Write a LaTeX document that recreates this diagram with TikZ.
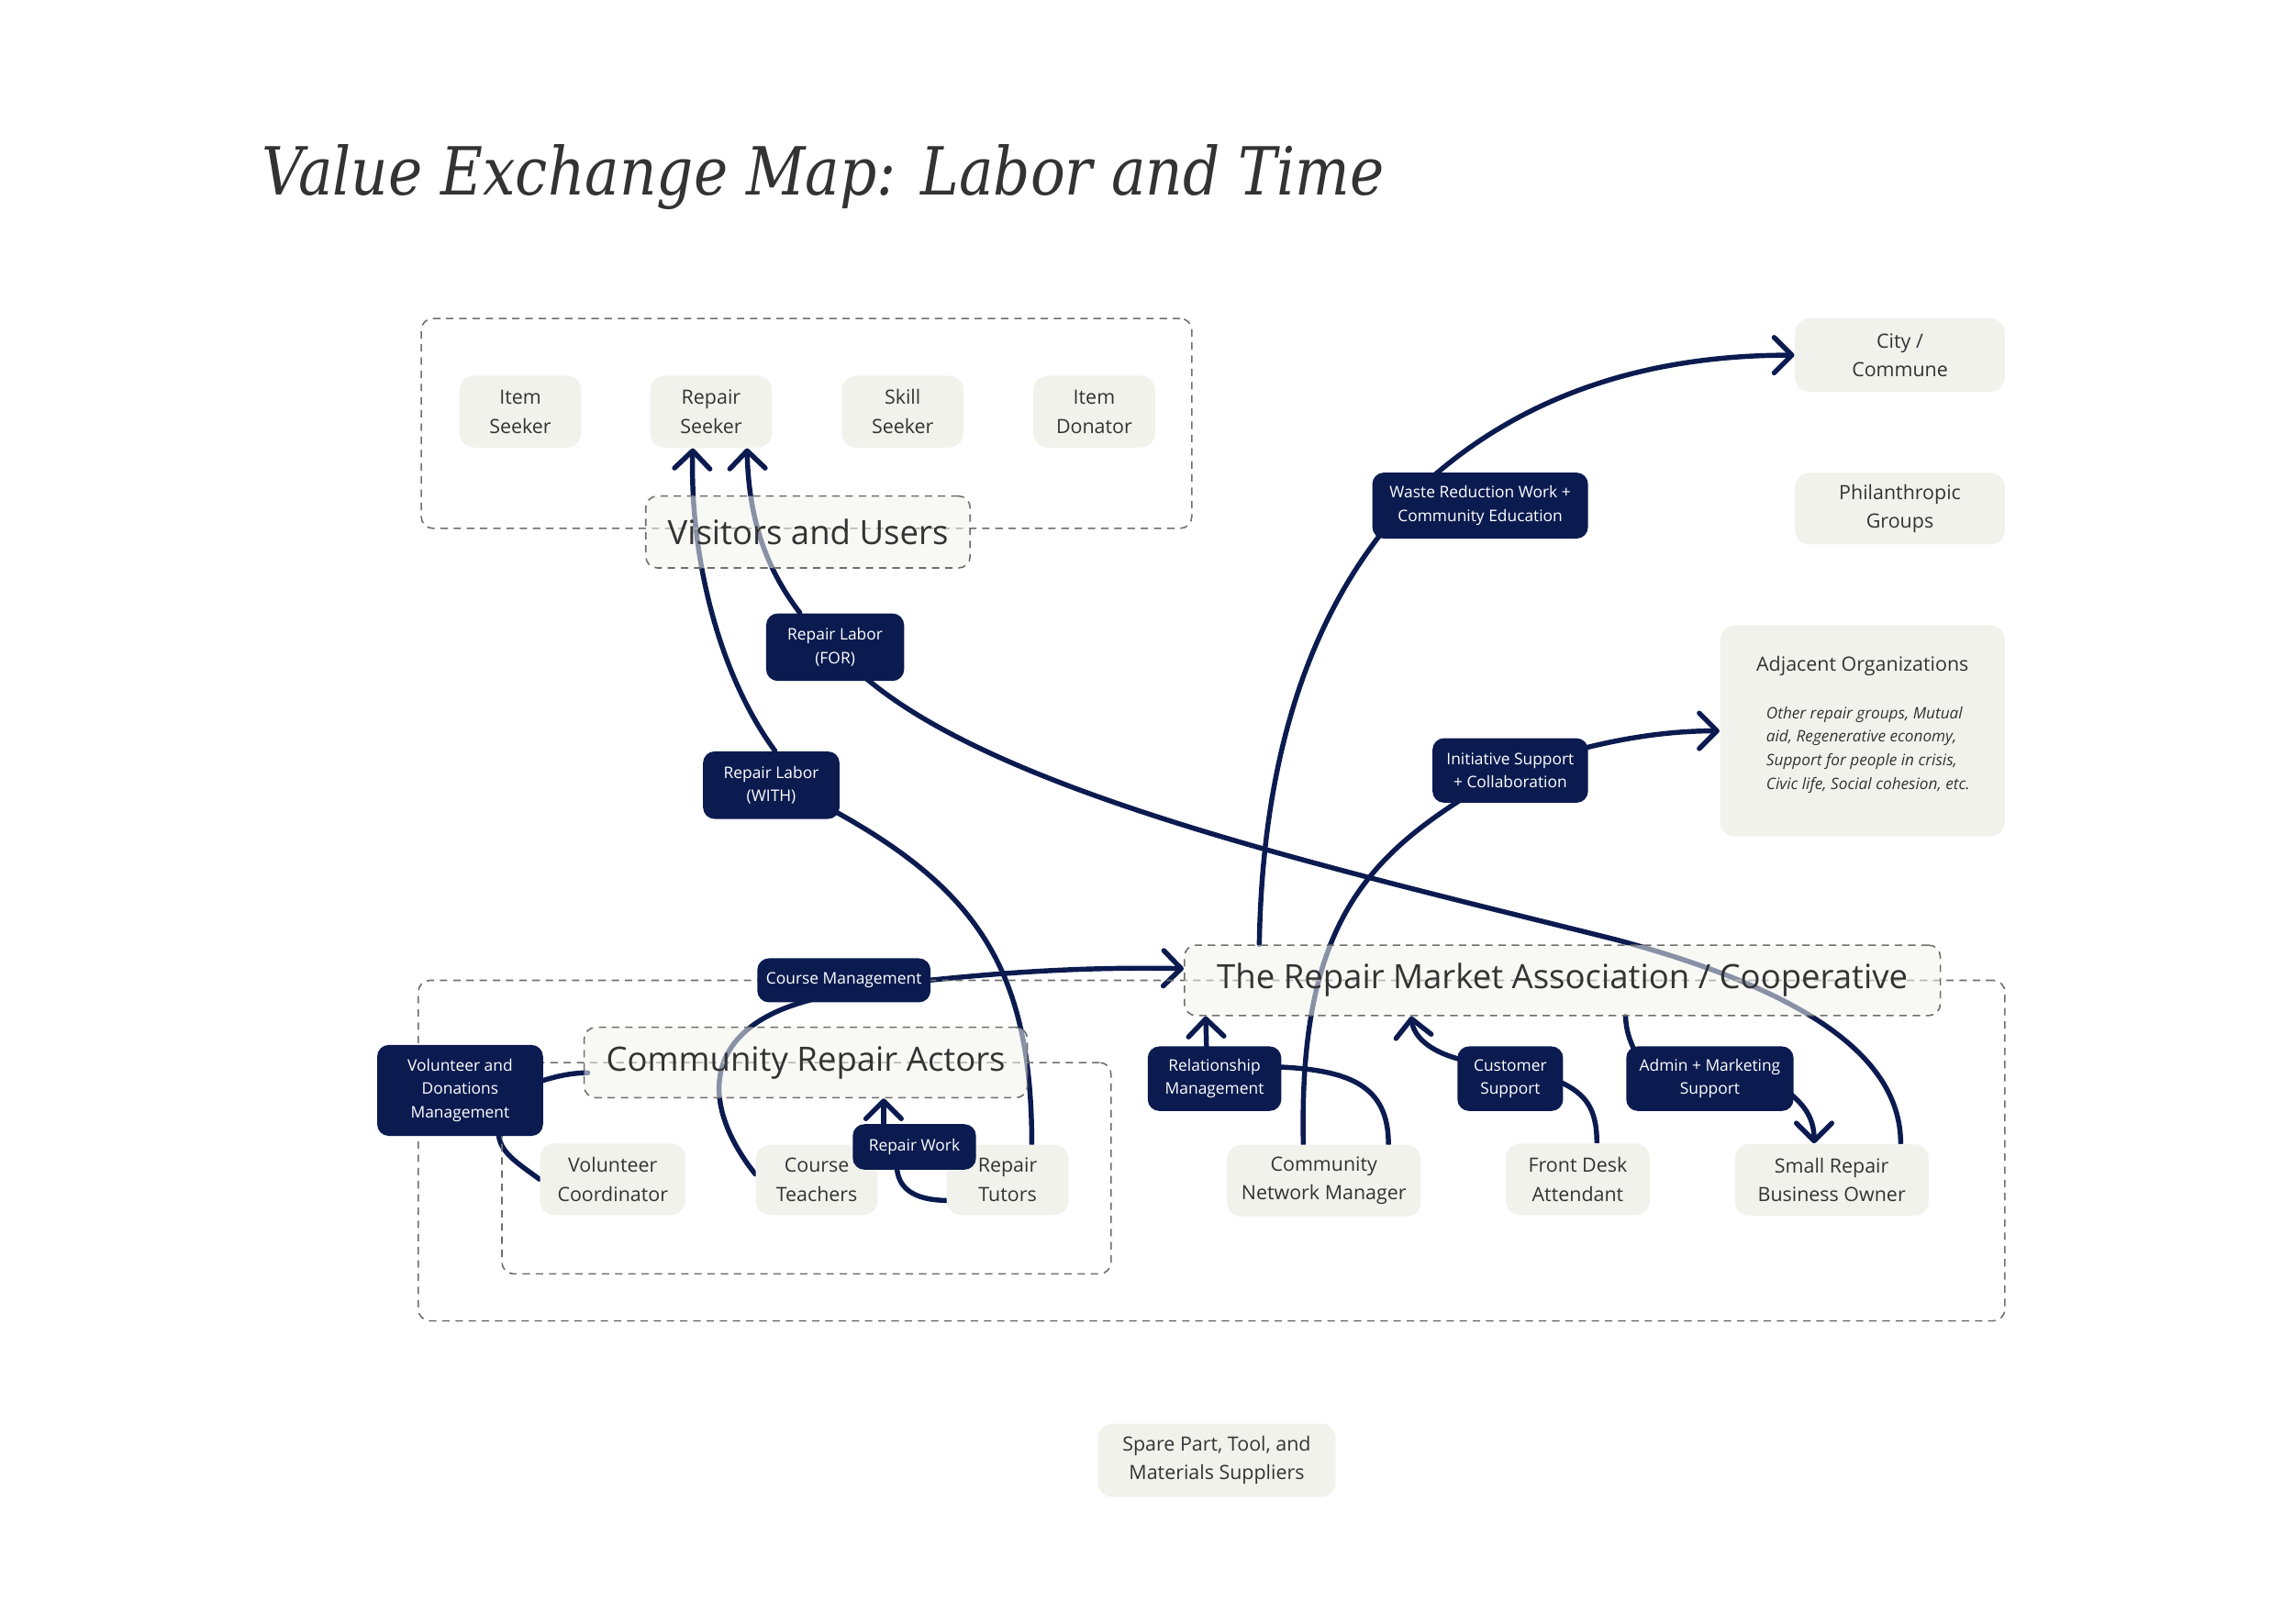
\documentclass[tikz,border=0pt]{standalone}
\usepackage{fontspec}
\setmainfont{Open Sans}
\newfontfamily\titlefont[FakeStretch=0.87]{DejaVu Serif}
\usetikzlibrary{arrows.meta,calc,backgrounds}
\definecolor{lightfill}{HTML}{F2F2ED}
\definecolor{navy}{HTML}{0B1B50}
\definecolor{txt}{HTML}{333333}
\definecolor{dashgray}{HTML}{6E6E6E}
\newcommand\upx{0.016cm}
\tikzset{
  light/.style={rectangle, rounded corners=4.5pt, fill=lightfill, text=txt, inner sep=0pt, align=center,
    font=\fontsize{6.1}{9}\selectfont},
  dark/.style={rectangle, rounded corners=3.6pt, fill=navy, text=white, inner sep=0pt, align=center,
    font=\fontsize{4.95}{7.3}\selectfont},
  grp/.style={rectangle, draw=dashgray, line width=0.45pt, dash pattern=on 2.3pt off 1.8pt, rounded corners=3.6pt, inner sep=0pt},
  glabel/.style={grp, fill=lightfill, fill opacity=0.55, text opacity=1, text=txt, font=\fontsize{10.4}{12}\selectfont},
  flow/.style={draw=navy, line width=1.55pt, line cap=round},
  tip/.style={-{Straight Barb[length=5.5pt,width=11pt,round]}}
}
\begin{document}
\begin{tikzpicture}[x=0.016cm,y=-0.016cm]
\useasboundingbox (0,0) rectangle (1563,1106);
% title
\node[anchor=base west, inner sep=0pt, text=txt, font=\titlefont\itshape\fontsize{20.6}{24}\selectfont] (title) at (178,133) {Value Exchange Map: Labor and Time};
% groups
\node[grp, minimum width=525*\upx, minimum height=143*\upx] (vgrp) at (549.5,288.5) {};
\node[grp, minimum width=1081*\upx, minimum height=232*\upx] (outer) at (825.5,784) {};
\node[grp, minimum width=415*\upx, minimum height=144*\upx] (cragrp) at (549.5,796) {};
\node[glabel, minimum width=221*\upx, minimum height=49*\upx] (vlab) at (550.5,362.5) {Visitors and Users};
\node[glabel, minimum width=302*\upx, minimum height=48*\upx] (cralab) at (549,724) {Community Repair Actors};
\node[glabel, minimum width=515*\upx, minimum height=48*\upx] (rmalab) at (1064.5,668) {The Repair Market Association / Cooperative};
% light nodes
\node[light, minimum width=83*\upx, minimum height=49*\upx] (iseek) at (354.5,280.5) {Item\\Seeker};
\node[light, minimum width=83*\upx, minimum height=49*\upx] (rseek) at (484.5,280.5) {Repair\\Seeker};
\node[light, minimum width=83*\upx, minimum height=49*\upx] (sseek) at (615,280.5) {Skill\\Seeker};
\node[light, minimum width=83*\upx, minimum height=49*\upx] (idon) at (745.5,280.5) {Item\\Donator};
\node[light, minimum width=143*\upx, minimum height=50*\upx] (city) at (1294.5,242) {City /\\Commune};
\node[light, minimum width=143*\upx, minimum height=49*\upx] (phil) at (1294.5,346.5) {Philanthropic\\Groups};
\node[light, minimum width=194*\upx, minimum height=144*\upx] (adj) at (1269,498) {};
\node[light] (adjt) at (1269,454) {Adjacent Organizations};
\node[light, align=left, anchor=north west, font=\itshape\fontsize{4.9}{7.3}\selectfont] (adjd) at (1203,481) {Other repair groups, Mutual\\aid, Regenerative economy,\\Support for people in crisis,\\Civic life, Social cohesion, etc.};
\node[light, minimum width=162*\upx, minimum height=50*\upx] (spare) at (829,995) {Spare Part, Tool, and\\Materials Suppliers};
\node[light, minimum width=99*\upx, minimum height=49*\upx] (vcoord) at (417.5,803.5) {Volunteer\\Coordinator};
\node[light, minimum width=83*\upx, minimum height=48*\upx] (cteach) at (556.5,804) {Course\\Teachers};
\node[light, minimum width=83*\upx, minimum height=48*\upx] (rtutor) at (686.5,804) {Repair\\Tutors};
\node[light, minimum width=132*\upx, minimum height=49*\upx] (cnm) at (902,804.5) {Community\\Network Manager};
\node[light, minimum width=98*\upx, minimum height=49*\upx] (fda) at (1075,803.5) {Front Desk\\Attendant};
\node[light, minimum width=132*\upx, minimum height=49*\upx] (srbo) at (1248,804) {Small Repair\\Business Owner};
% dark nodes
\node[dark, minimum width=147*\upx, minimum height=45*\upx] (waste) at (1008.5,344.5) {Waste Reduction Work +\\Community Education};
\node[dark, minimum width=106*\upx, minimum height=44*\upx] (init) at (1029,525) {Initiative Support\\+ Collaboration};
\node[dark, minimum width=94*\upx, minimum height=46*\upx] (rlfor) at (569,441) {Repair Labor\\(FOR)};
\node[dark, minimum width=93*\upx, minimum height=46*\upx] (rlwith) at (525.5,535) {Repair Labor\\(WITH)};
\node[dark, minimum width=118*\upx, minimum height=30*\upx] (cmgmt) at (575,668) {Course Management};
\node[dark, minimum width=113*\upx, minimum height=62*\upx] (vdm) at (313.5,743) {Volunteer and\\Donations\\Management};
\node[dark, minimum width=84*\upx, minimum height=31*\upx] (rwork) at (623,781.5) {Repair Work};
\node[dark, minimum width=91*\upx, minimum height=44*\upx] (relm) at (827.5,735) {Relationship\\Management};
\node[dark, minimum width=72*\upx, minimum height=44*\upx] (csup) at (1029,735) {Customer\\Support};
\node[dark, minimum width=114*\upx, minimum height=44*\upx] (admin) at (1165,735) {Admin + Marketing\\Support};
% connectors
\begin{scope}[on background layer]
% repair labor (WITH)
\draw[flow, tip] ($(rlwith.north)+(2.5,0)$) .. controls (490,460) and (470,380) .. ($(rseek.south)+(-12.5,0)$);
\draw[flow] ($(rtutor.north)+(16.5,0)$) .. controls (703,660) and (665,605) .. ($(rlwith.south east)+(-8,-8)$);
% repair labor (FOR)
\draw[flow, tip] ($(rlfor.north)+(-24,0)$) .. controls (520,385) and (510,350) .. ($(rseek.south)+(24.5,0)$);
\draw[flow] ($(rlfor.south)+(19,-4)$) .. controls (680,540) and (900,590) .. (1100,640) .. controls (1250,680) and (1295,730) .. ($(srbo.north)+(47,0)$);
% initiative support
\draw[flow] ($(cnm.north)+(-14,0)$) .. controls (885,640) and (925,590) .. ($(init.south west)+(19,-2)$);
\draw[flow, tip] ($(init.east)+(-4,-15)$) .. controls (1110,502) and (1140,498) .. (adj.west);
% waste reduction
\draw[flow] ($(rmalab.north)+(-206.5,0)$) .. controls (860,520) and (890,430) .. ($(waste.south west)+(5,-2)$);
\draw[flow, tip] ($(waste.north west)+(43,2)$) .. controls (1040,270) and (1120,242) .. (city.west);
% course management
\draw[flow] ($(cteach.west)+(0,-4)$) .. controls (475,750) and (480,700) .. ($(cmgmt.south)+(-23,-2)$);
\draw[flow, tip] ($(cmgmt.east)+(-2,0)$) .. controls (700,661) and (750,659) .. ($(rmalab.west)+(0,-8)$);
% volunteer and donations
\draw[flow] (vcoord.west) .. controls (352,792) and (340,785) .. ($(vdm.south west)+(83,-3)$);
\draw[flow] ($(vdm.east)+(-3,-6)$) .. controls (380,733) and (390,731) .. ($(cralab.west)+(3,7)$);
% repair work
\draw[flow] ($(rtutor.west)+(2,14)$) .. controls (620,818) and (612,808) .. ($(rwork.south)+(-12,-2)$);
\draw[flow, tip] ($(rwork.north)+(-21,0)$) -- ($(cralab.south)+(53,0)$);
% relationship management
\draw[flow] ($(cnm.north)+(44,0)$) .. controls (946,740) and (920,729) .. ($(relm.east)+(-3,-8)$);
\draw[flow, tip] ($(relm.north)+(-5.5,0)$) -- ($(rmalab.south west)+(15,0)$);
% customer support
\draw[flow] ($(fda.north)+(13,0)$) .. controls (1088,755) and (1080,745) .. ($(csup.east)+(-3,2)$);
\draw[flow, tip] ($(csup.west)+(3,-13)$) .. controls (972,716) and (963,705) .. ($(rmalab.south west)+(155,0)$);
% admin + marketing
\draw[flow] ($(rmalab.south west)+(301,0)$) .. controls (1108,702) and (1110,708) .. ($(admin.north west)+(6,3)$);
\draw[flow, tip] ($(admin.east)+(-3,10)$) .. controls (1232,755) and (1236,765) .. ($(srbo.north)+(-12,0)$);
\end{scope}
\end{tikzpicture}
\end{document}
